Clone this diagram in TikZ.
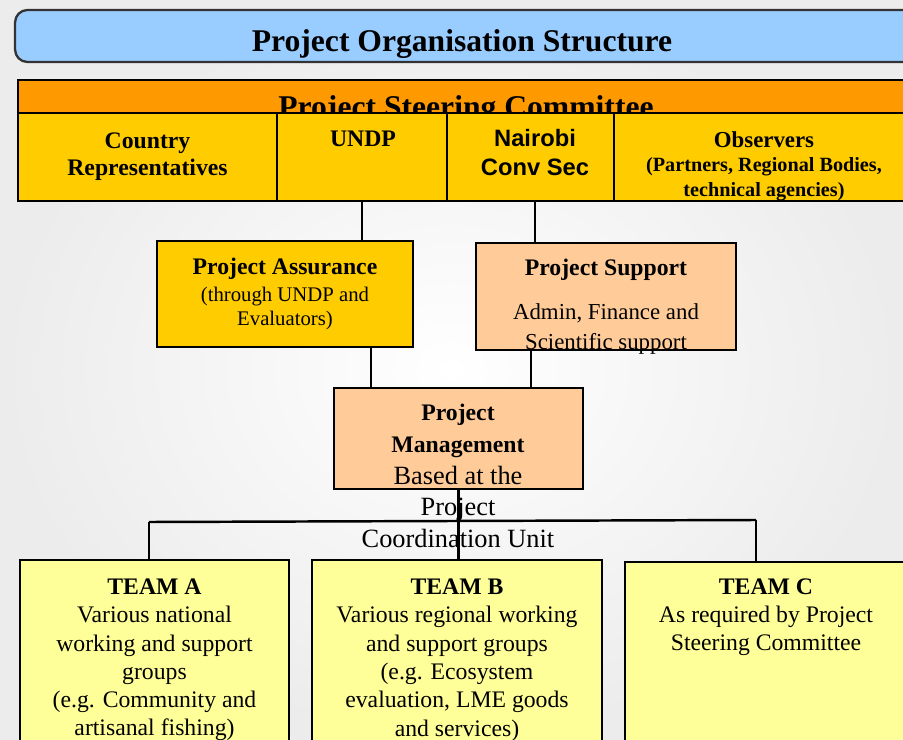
\documentclass[tikz,border=0pt]{standalone}
\usepackage{fontspec}
\setmainfont{Liberation Serif}
\newfontfamily\arialfont{Liberation Sans}
\usepackage{tikz}
\definecolor{titleblue}{HTML}{99CCFF}
\definecolor{psorange}{HTML}{FF9900}
\definecolor{psyellow}{HTML}{FFCC00}
\definecolor{peach}{HTML}{FFCC99}
\definecolor{teamyellow}{HTML}{FFFF99}
\tikzstyle{box} = [draw = black, line width = 1.3pt, inner sep = 0pt, align = center]
\tikzstyle{cell} = [box, fill = psyellow, minimum height = 1.76cm]
\tikzstyle{team} = [box, fill = teamyellow, minimum height = 4cm, font = \fontsize{13.5}{16.1}\selectfont]
\tikzstyle{txt} = [inner sep = 0pt, align = center]
\tikzstyle{link} = [line width = 1.4pt]

\begin{document}
\begin{tikzpicture}[x = 0.02cm, y = -0.02cm]
        \useasboundingbox (0, 0) rectangle (903, 740);
        \clip (0, 0) rectangle (903, 740);
        \shade [inner color = white, outer color = gray!15] (0, 0) rectangle (903, 740);

        % title and steering committee
        \node (Title) at (465, 36) [box, draw = black!80, fill = titleblue, rounded corners = 7pt, minimum width = 18cm, minimum height = 1.04cm] {};
        \node (TitleText) at (462, 52) [txt, anchor = base, font = \fontsize{18}{20}\selectfont\bfseries] {Project Organisation Structure};
        \node (PSC) at (466.5, 96.5) [box, fill = psorange, minimum width = 17.94cm, minimum height = 0.66cm] {};
        \node (PSCText) at (466, 118) [txt, anchor = base, font = \fontsize{18}{20}\selectfont\bfseries] {Project Steering Committee};

        \node (CR) at (147.5, 157) [cell, minimum width = 5.18cm, font = \fontsize{13.5}{15.4}\selectfont\bfseries] {Country\\ Representatives};
        \node (UNDP) at (362, 157) [cell, minimum width = 3.4cm] {};
        \node (NCS) at (530.5, 157) [cell, minimum width = 3.34cm] {};
        \node (OBS) at (764.5, 157) [cell, minimum width = 6.02cm] {};
        \node (UNDPText) at (363, 147) [txt, anchor = base, font = \fontsize{13.5}{15.4}\selectfont\bfseries] {UNDP};
        \node (NCSText) at (535, 153) [txt, font = \arialfont\fontsize{13.5}{16.5}\selectfont\bfseries] {Nairobi\\ Conv Sec};
        \node (OBSText) at (764, 166) [txt, font = \fontsize{11.5}{14}\selectfont\bfseries] {{\fontsize{13}{14}\selectfont Observers}\\ (Partners, Regional Bodies,\\ technical agencies)};

        % assurance, support, management
        \node (PA) at (285, 294) [box, fill = psyellow, minimum width = 5.12cm, minimum height = 2.12cm, font = \fontsize{11.8}{14}\selectfont] {\textbf{\fontsize{13.5}{14}\selectfont Project Assurance}\\[1.5pt] (through UNDP and\\ Evaluators)};
        \node (PS) at (606, 296.5) [box, fill = peach, minimum width = 5.2cm, minimum height = 2.14cm] {};
        \node (PSText) at (606, 307) [txt, font = \fontsize{13}{17}\selectfont] {\textbf{\fontsize{13.5}{17}\selectfont Project Support}\\[8pt] Admin, Finance and\\ Scientific support};
        \node (PM) at (458.5, 438.5) [box, fill = peach, minimum width = 4.98cm, minimum height = 2.02cm] {};
        \node (PMText) at (458, 476) [txt, font = \fontsize{15}{18}\selectfont] {\textbf{\fontsize{13.5}{16}\selectfont Project}\\ \textbf{\fontsize{13.5}{16}\selectfont Management}\\ Based at the\\ Project\\ Coordination Unit};

        % teams
        \node (TA) at (154.5, 660) [team, minimum width = 5.38cm] {\textbf{TEAM A}\\ Various national\\ working and support\\ groups\\ (e.g. Community and\\ artisanal fishing)};
        \node (TB) at (457, 660) [team, minimum width = 5.8cm] {\textbf{TEAM B}\\ Various regional working\\ and support groups\\ (e.g. Ecosystem\\ evaluation, LME goods\\ and services)};
        \node (TC) at (770, 662) [team, minimum width = 5.8cm] {};
        \node (TCText) at (766, 617) [txt, font = \fontsize{13.5}{16.1}\selectfont] {\textbf{TEAM C}\\ As required by Project\\ Steering Committee};

        \draw [link] (UNDP.south) -- (UNDP.south |- PA.north);
        \draw [link] ([xshift = 0.09cm]NCS.south) -- ([xshift = 0.09cm]NCS.south |- PS.north);
        \draw [link] ([xshift = 1.72cm]PA.south) -- ([xshift = 1.72cm]PA.south |- PM.north);
        \draw [link] ([xshift = -1.5cm]PS.south) -- ([xshift = -1.5cm]PS.south |- PM.north);
        \draw [link] (PM.south) -- (PM.south |- TB.north);
        \coordinate (BusA) at (149, 522);
        \coordinate (BusC) at (756, 520);
        \draw [link] (BusA) -- (BusC);
        \draw [link] (BusA) -- (BusA |- TA.north);
        \draw [link] (BusC) -- (BusC |- TC.north);
    \end{tikzpicture}
\end{document}
